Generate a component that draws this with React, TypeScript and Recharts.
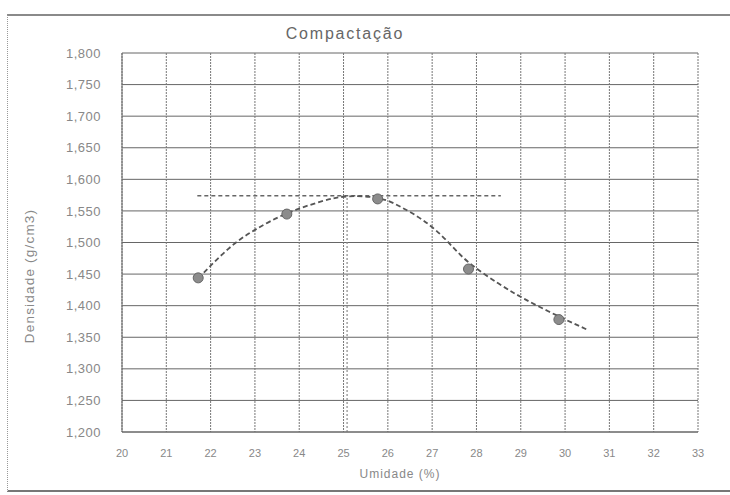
import React from 'react';
import { ComposedChart, Line, Scatter, XAxis, YAxis, CartesianGrid } from 'recharts';

const xTicks = [20, 21, 22, 23, 24, 25, 26, 27, 28, 29, 30, 31, 32, 33];
const yTicks = [1.2, 1.25, 1.3, 1.35, 1.4, 1.45, 1.5, 1.55, 1.6, 1.65, 1.7, 1.75, 1.8];

// measured points (Umidade %, Densidade g/cm3)
const umidade = [21.72, 23.72, 25.77, 27.82, 29.86];
const densidade = [1.444, 1.545, 1.569, 1.458, 1.378];

// trend curve
const curveX = [21.72, 22.4, 23.0, 23.72, 24.5, 25.1, 25.8, 26.3, 26.8, 27.3, 27.8, 28.5, 29.1, 29.8, 30.5];
const curveY = [1.443, 1.49, 1.52, 1.546, 1.565, 1.573, 1.570, 1.556, 1.535, 1.505, 1.470, 1.435, 1.41, 1.385, 1.362];

// maximum density reference lines
const maxLineX = [21.7, 28.55];
const maxLineY = [1.574, 1.574];
const optX = [25.08, 25.08];
const optY = [1.2, 1.574];

const points = umidade.map((x, i) => ({ x, y: densidade[i] }));
const curve = curveX.map((x, i) => ({ x, y: curveY[i] }));
const maxLine = maxLineX.map((x, i) => ({ x, y: maxLineY[i] }));
const optLine = optX.map((x, i) => ({ x, y: optY[i] }));

const font = '"Liberation Sans", Arial, sans-serif';

const fmt = (v: number) => v.toFixed(3).replace('.', ',');

const Dot = (props: any) => {
  const { cx, cy } = props;
  if (cx == null || cy == null) return null;
  return <circle cx={cx} cy={cy} r={5} fill="#8c8c8c" stroke="#666" strokeWidth={1} />;
};

export default function App() {
  return (
    <div style={{ position: 'absolute', left: 0, top: 0, width: 730, height: 495, overflow: 'hidden', background: '#fff' }}>
      <div
        style={{
          position: 'absolute',
          left: 7,
          top: 14,
          width: 800,
          height: 474,
          borderLeft: '1px dotted #999',
          borderTop: '2px solid #8a8a8a',
          borderBottom: '2px solid #777',
        }}
      />
      <div style={{ position: 'absolute', left: 0, top: 0 }}>
        <ComposedChart
          width={730}
          height={495}
          margin={{ top: 53, right: 32, bottom: 33, left: 0 }}
        >
          <CartesianGrid vertical={false} stroke="#666" strokeWidth={1} />
          <CartesianGrid horizontal={false} stroke="#777" strokeDasharray="2 1" strokeWidth={1} />
          <XAxis
            type="number"
            dataKey="x"
            domain={[20, 33]}
            ticks={xTicks}
            allowDataOverflow
            height={30}
            tickLine={false}
            tickMargin={11}
            axisLine={{ stroke: '#666' }}
            tick={{ fontSize: 11, fill: '#888', fontFamily: font }}
          />
          <YAxis
            type="number"
            dataKey="y"
            domain={[1.2, 1.8]}
            ticks={yTicks}
            allowDataOverflow
            width={122}
            tickLine={false}
            tickMargin={15}
            axisLine={{ stroke: '#666' }}
            tickFormatter={fmt}
            tick={{ fontSize: 13, fill: '#888', fontFamily: font, letterSpacing: 0.5 }}
          />
          <Line
            data={optLine}
            dataKey="y"
            type="linear"
            stroke="#8a8a8a"
            strokeWidth={1.2}
            strokeDasharray="2 2"
            dot={false}
            isAnimationActive={false}
          />
          <Line
            data={maxLine}
            dataKey="y"
            type="linear"
            stroke="#666"
            strokeWidth={1.5}
            strokeDasharray="4 3"
            dot={false}
            isAnimationActive={false}
          />
          <Line
            data={curve}
            dataKey="y"
            type="natural"
            stroke="#555"
            strokeWidth={1.8}
            strokeDasharray="5 3"
            dot={false}
            isAnimationActive={false}
          />
          <Scatter data={points} dataKey="y" shape={Dot} isAnimationActive={false} />
        </ComposedChart>
      </div>
      <svg
        width={730}
        height={495}
        style={{ position: 'absolute', left: 0, top: 0, pointerEvents: 'none' }}
      >
        <text x={345} y={39} textAnchor="middle" fontFamily={font} fontSize={16} letterSpacing={1.8} fill="#666">
          Compactação
        </text>
        <text x={400} y={478} textAnchor="middle" fontFamily={font} fontSize={12} letterSpacing={1} fill="#888">
          Umidade (%)
        </text>
        <text
          x={0}
          y={0}
          transform="translate(33.5 276) rotate(-90)"
          textAnchor="middle"
          fontFamily={font}
          fontSize={13.5}
          letterSpacing={1.2}
          fill="#888"
        >
          Densidade (g/cm3)
        </text>
      </svg>
    </div>
  );
}
